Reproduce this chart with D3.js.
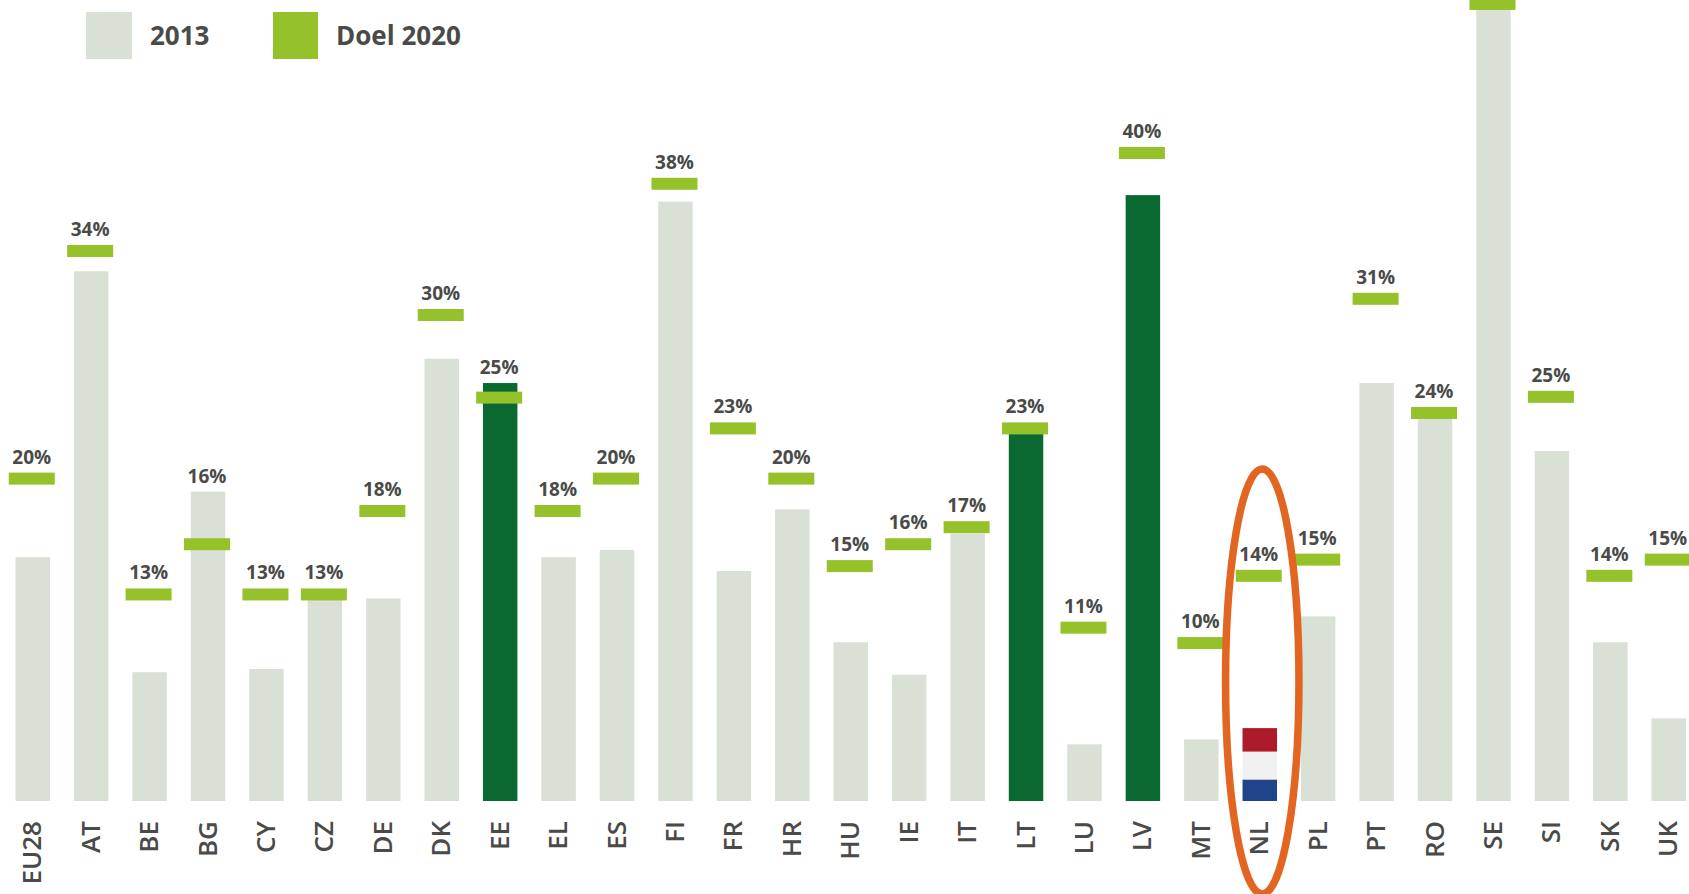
<!DOCTYPE html>
<html>
<head>
<meta charset="utf-8">
<script src="https://cdn.jsdelivr.net/npm/d3@7"></script>
<style>
html, body { margin: 0; padding: 0; background: #fff; overflow: hidden; }
text { font-family: "Open Sans", sans-serif; font-weight: 700; fill: #4a4a48; }
</style>
</head>
<body>
<div id="chart-container"></div>
<script>
const countries = ["EU28", "AT", "BE", "BG", "CY", "CZ", "DE", "DK", "EE", "EL", "ES", "FI", "FR", "HR", "HU", "IE", "IT", "LT", "LU", "LV", "MT", "NL", "PL", "PT", "RO", "SE", "SI", "SK", "UK"];
const values2013 = [15.05, 32.7, 7.95, 19.1, 8.15, 12.5, 12.5, 27.3, 25.8, 15.05, 15.5, 37.0, 14.2, 18.0, 9.8, 7.8, 16.5, 23.0, 3.5, 37.4, 3.8, 4.5, 11.4, 25.8, 23.8, 49.0, 21.6, 9.8, 5.1];
const target2020 = [19.9, 33.95, 12.75, 15.85, 12.75, 12.75, 17.9, 30.0, 24.9, 17.9, 19.9, 38.1, 23.0, 19.9, 14.5, 15.85, 16.9, 23.0, 10.7, 40.0, 9.75, 13.9, 14.9, 31.0, 23.95, 49.2, 24.95, 13.9, 14.9];
const targetLabels = ["20%", "34%", "13%", "16%", "13%", "13%", "18%", "30%", "25%", "18%", "20%", "38%", "23%", "20%", "15%", "16%", "17%", "23%", "11%", "40%", "10%", "14%", "15%", "31%", "24%", "", "25%", "14%", "15%"];
const reached = ["EE", "LT", "LV"];
const flagCountry = "NL";
const flagStops = [0, 1.33, 3.05, 4.5];
const flagColors = ["#1f4489", "#f1f1f1", "#ad1a28"];
const legendNames = ["2013", "Doel 2020"];

const width = 1689, height = 894;
const grey = "#d9e1d7", lime = "#95c12b", darkGreen = "#0a6831";

const svg = d3.select("#chart-container")
    .append("svg")
    .attr("width", width)
    .attr("height", height)
    .style("display", "block");

const x = d3.scaleBand()
    .domain(countries)
    .range([15.5, 1686])
    .paddingInner(0.41)
    .paddingOuter(0);

const y = d3.scaleLinear()
    .domain([0, 40])
    .range([801, 153]);

const rows = countries.map(function(c, i) {
    return {country: c, value: values2013[i], target: target2020[i], label: targetLabels[i]};
});

// bars, NL is drawn as the flag instead
svg.append("g")
    .selectAll("rect")
    .data(rows.filter(function(d) { return d.country !== flagCountry; }))
    .join("rect")
    .attr("x", function(d) { return x(d.country); })
    .attr("y", function(d) { return y(d.value); })
    .attr("width", x.bandwidth())
    .attr("height", function(d) { return y(0) - y(d.value); })
    .attr("fill", function(d) { return reached.includes(d.country) ? darkGreen : grey; });

svg.append("g")
    .selectAll("rect")
    .data(flagColors)
    .join("rect")
    .attr("x", x(flagCountry))
    .attr("y", function(d, i) { return y(flagStops[i + 1]); })
    .attr("width", x.bandwidth())
    .attr("height", function(d, i) { return y(flagStops[i]) - y(flagStops[i + 1]); })
    .attr("fill", function(d) { return d; });

const targetW = 46, targetH = 12;

svg.append("g")
    .selectAll("rect")
    .data(rows)
    .join("rect")
    .attr("x", function(d) { return x(d.country) + x.bandwidth() / 2 - 1 - targetW / 2; })
    .attr("y", function(d) { return y(d.target) - targetH / 2; })
    .attr("width", targetW)
    .attr("height", targetH)
    .attr("fill", lime);

// label sits above whichever is higher, the bar or the target
svg.append("g")
    .selectAll("text")
    .data(rows.filter(function(d) { return d.label; }))
    .join("text")
    .attr("x", function(d) { return x(d.country) + x.bandwidth() / 2 - 1; })
    .attr("y", function(d) {
        const top = Math.min(y(d.target) - targetH / 2, d.country === flagCountry ? height : y(d.value));
        return top - 9;
    })
    .attr("text-anchor", "middle")
    .attr("font-size", "19px")
    .text(function(d) { return d.label; });

// country axis, labels turned up
const axis = svg.append("g")
    .attr("transform", "translate(0," + y(0) + ")")
    .call(d3.axisBottom(x).tickSize(0));
axis.select(".domain").remove();
axis.selectAll("text")
    .attr("transform", "rotate(-90)")
    .attr("x", -20)
    .attr("y", 8.5)
    .attr("dy", 0)
    .attr("text-anchor", "end")
    .style("font-family", "'Open Sans', sans-serif")
    .style("font-weight", 600)
    .style("font-size", "26px");

// legend
const legendX = [86, 273];
const legendW = [46, 45];
const legendTextX = [150, 336];
const legendColors = [grey, lime];
legendNames.forEach(function(name, i) {
    svg.append("rect")
        .attr("x", legendX[i])
        .attr("y", 12)
        .attr("width", legendW[i])
        .attr("height", 47)
        .attr("fill", legendColors[i]);
    svg.append("text")
        .attr("x", legendTextX[i])
        .attr("y", 45)
        .attr("font-size", "26px")
        .text(name);
});

// orange ring round NL
svg.append("ellipse")
    .attr("cx", x(flagCountry) + x.bandwidth() / 2 + 2.5)
    .attr("cy", 681.5)
    .attr("rx", 36.7)
    .attr("ry", 212.5)
    .attr("fill", "none")
    .attr("stroke", "#e26522")
    .attr("stroke-width", 7.5);
</script>
</body>
</html>
